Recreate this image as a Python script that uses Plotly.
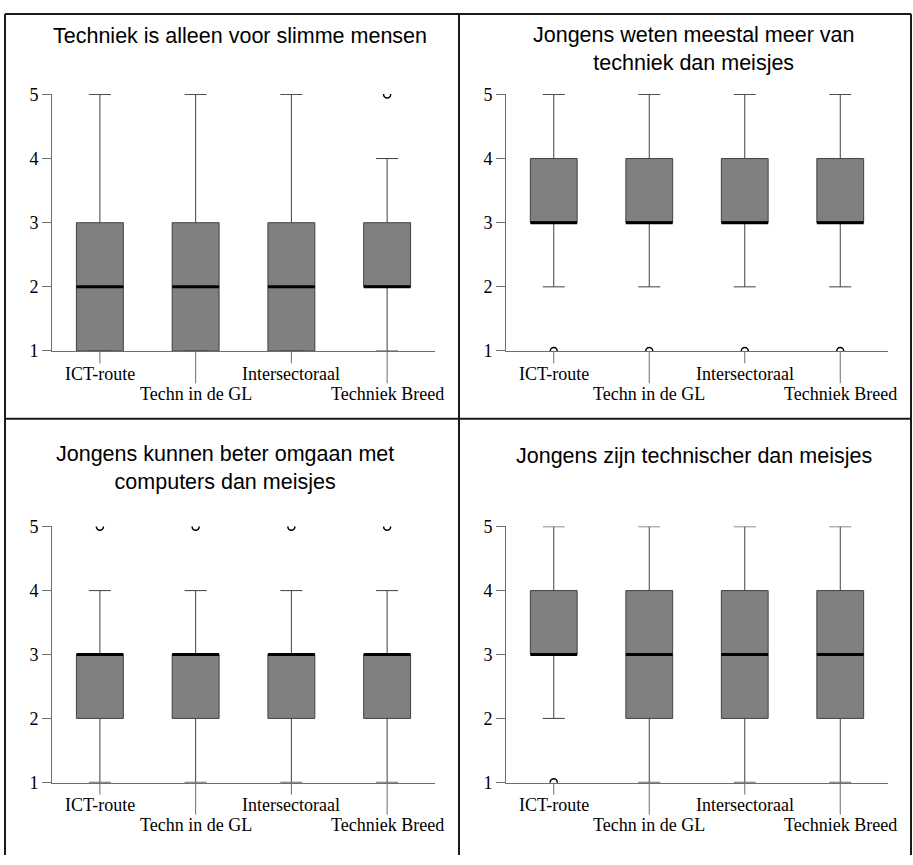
import plotly.graph_objects as go

W, H = 913, 865

categories = ["ICT-route", "Techn in de GL", "Intersectoraal", "Techniek Breed"]
titles = [
    "Techniek is alleen voor slimme mensen",
    "Jongens weten meestal meer van<br>techniek dan meisjes",
    "Jongens kunnen beter omgaan met<br>computers dan meisjes",
    "Jongens zijn technischer dan meisjes",
]
y_ticks = [1, 2, 3, 4, 5]

# Panel 1
p1_low = [1, 1, 1, 1]
p1_q1 = [1, 1, 1, 2]
p1_med = [2, 2, 2, 2]
p1_q3 = [3, 3, 3, 3]
p1_high = [5, 5, 5, 4]
p1_out = [[], [], [], [5]]
# Panel 2
p2_low = [2, 2, 2, 2]
p2_q1 = [3, 3, 3, 3]
p2_med = [3, 3, 3, 3]
p2_q3 = [4, 4, 4, 4]
p2_high = [5, 5, 5, 5]
p2_out = [[1], [1], [1], [1]]
# Panel 3
p3_low = [1, 1, 1, 1]
p3_q1 = [2, 2, 2, 2]
p3_med = [3, 3, 3, 3]
p3_q3 = [3, 3, 3, 3]
p3_high = [4, 4, 4, 4]
p3_out = [[5], [5], [5], [5]]
# Panel 4
p4_low = [2, 1, 1, 1]
p4_q1 = [3, 2, 2, 2]
p4_med = [3, 3, 3, 3]
p4_q3 = [4, 4, 4, 4]
p4_high = [5, 5, 5, 5]
p4_out = [[1], [], [], []]

panels = [
    (p1_low, p1_q1, p1_med, p1_q3, p1_high, p1_out),
    (p2_low, p2_q1, p2_med, p2_q3, p2_high, p2_out),
    (p3_low, p3_q1, p3_med, p3_q3, p3_high, p3_out),
    (p4_low, p4_q1, p4_med, p4_q3, p4_high, p4_out),
]

# layout geometry in pixels
plot_x = [(52, 435), (506, 888), (52, 435), (506, 888)]
plot_y = [(87, 350), (87, 350), (529, 791), (529, 791)]
title_pos = [(240, 28), (693, 40.5), (225, 469.5), (694, 457)]

BOX_W = 0.49
SERIF = "Liberation Serif"
SANS = "Liberation Sans"
AXIS_COL = "#6e6e6e"
PAD = 0.005

fig = go.Figure()
layout = dict(
    width=W, height=H, margin=dict(l=0, r=0, t=0, b=0),
    paper_bgcolor="white", plot_bgcolor="white", showlegend=False,
)
annotations = []
shapes = []

n = len(categories)
xs = list(range(n))

for i, (low, q1, med, q3, high, out) in enumerate(panels):
    sfx = "" if i == 0 else str(i + 1)
    xa, ya = "x" + sfx, "y" + sfx
    fig.add_trace(go.Box(
        x=xs, lowerfence=low, q1=q1, median=med, q3=q3, upperfence=high,
        width=BOX_W, whiskerwidth=0.47,
        fillcolor="#808080", line=dict(color="#404040", width=1),
        xaxis=xa, yaxis=ya, hoverinfo="skip",
    ))
    # medians
    mx, my = [], []
    for k in xs:
        mx += [k - BOX_W / 2, k + BOX_W / 2, None]
        my += [med[k], med[k], None]
    fig.add_trace(go.Scatter(x=mx, y=my, mode="lines",
                             line=dict(color="black", width=3),
                             xaxis=xa, yaxis=ya, hoverinfo="skip"))
    # outliers
    ox, oy = [], []
    for k in xs:
        for v in out[k]:
            ox.append(k)
            oy.append(v)
    fig.add_trace(go.Scatter(x=ox, y=oy, mode="markers", cliponaxis=True,
                             marker=dict(symbol="circle-open", size=7, color="black",
                                         line=dict(color="black", width=1.5)),
                             xaxis=xa, yaxis=ya, hoverinfo="skip"))

    x0, x1 = plot_x[i]
    y0, y1 = plot_y[i]
    layout["xaxis" + sfx] = dict(
        domain=[x0 / W, x1 / W], anchor=ya, range=[-0.5, n - 0.5],
        showline=True, linecolor=AXIS_COL, linewidth=1, ticks="",
        showticklabels=False, showgrid=False, zeroline=False, fixedrange=True,
    )
    layout["yaxis" + sfx] = dict(
        domain=[1 - y1 / H, 1 - y0 / H], anchor=xa,
        range=[y_ticks[0] - PAD, y_ticks[-1] + PAD],
        tickvals=y_ticks, ticktext=[str(t) for t in y_ticks],
        showline=True, linecolor=AXIS_COL, linewidth=1,
        ticks="outside", ticklen=9, tickcolor=AXIS_COL, tickwidth=1,
        tickfont=dict(family=SERIF, size=18, color="black"),
        showgrid=False, zeroline=False, fixedrange=True,
    )
    # category ticks (staggered lengths) and labels
    for k, cat in enumerate(categories):
        long = (k % 2 == 1)
        shapes.append(dict(
            type="line", xref=xa + " domain", yref=ya + " domain",
            x0=(k + 0.5) / n, x1=(k + 0.5) / n,
            ysizemode="pixel", yanchor=0, y0=0, y1=-(32 if long else 12),
            line=dict(color=AXIS_COL, width=1),
        ))
        annotations.append(dict(
            text=cat, xref=xa, yref=ya, x=k, y=y_ticks[0],
            xanchor="center", yanchor="middle", yshift=-(43 if long else 23),
            showarrow=False, font=dict(family=SERIF, size=18, color="black"),
        ))
    tx, ty = title_pos[i]
    annotations.append(dict(
        text=titles[i], xref="paper", yref="paper", x=tx / W, y=1 - ty / H,
        xanchor="center", yanchor="middle", showarrow=False,
        font=dict(family=SANS, size=21.5, color="black"),
    ))

# panel frame lines
FRAME = dict(color="#1a1a1a", width=2)
def px_line(xa_, ya_, xb_, yb_):
    shapes.append(dict(type="line", xref="paper", yref="paper",
                       x0=xa_ / W, x1=xb_ / W, y0=1 - ya_ / H, y1=1 - yb_ / H,
                       line=FRAME))
px_line(5, 5, 911, 5)
px_line(5, 5, 5, H)
px_line(911, 5, 911, H)
px_line(459, 5, 459, H)
px_line(5, 419, 911, 419)

layout["annotations"] = annotations
layout["shapes"] = shapes
fig.update_layout(**layout)
fig.write_html("out.html")
